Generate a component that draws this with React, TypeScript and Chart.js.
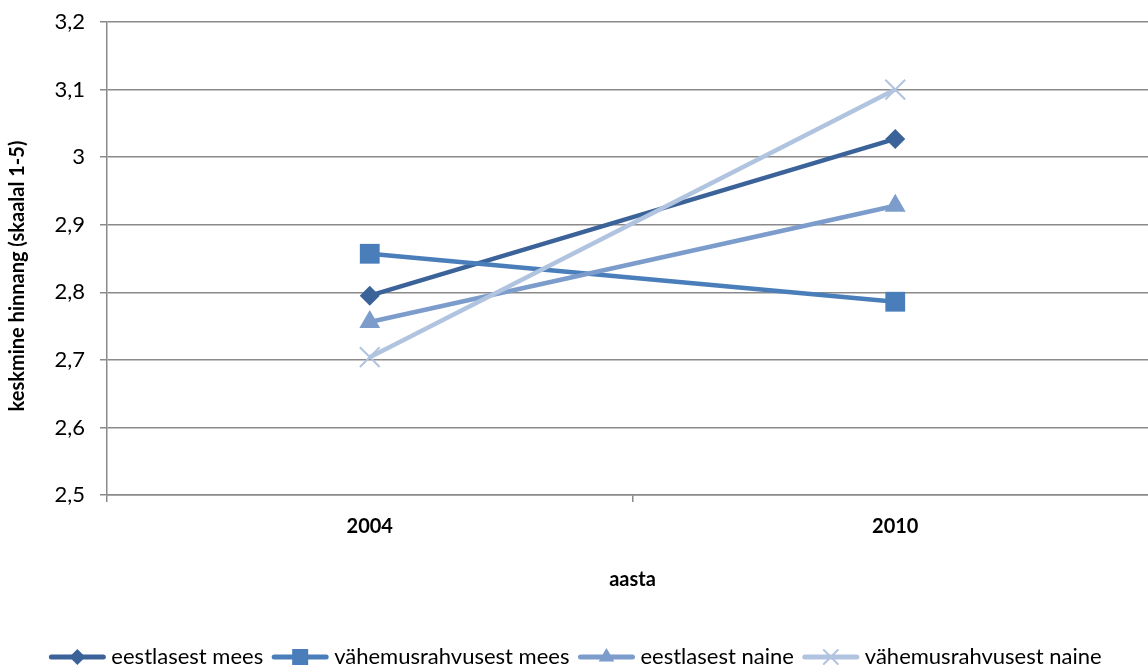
import React, { useEffect, useRef } from 'react';
import { Chart, registerables } from 'chart.js';

Chart.register(...registerables);

const FONT = 'Lato, "Open Sans", sans-serif';

const categories = ['2004', '2010'];
const seriesNames = [
  'eestlasest mees',
  'vähemusrahvusest mees',
  'eestlasest naine',
  'vähemusrahvusest naine',
];
const eestlasestMees = [2.795, 3.027];
const vahemusrahvusestMees = [2.857, 2.786];
const eestlasestNaine = [2.756, 2.928];
const vahemusrahvusestNaine = [2.704, 3.1];
const yMin = 2.5;
const yMax = 3.2;
const yStep = 0.1;
const xTitle = 'aasta';
const yTitle = 'keskmine hinnang (skaalal 1-5)';

const seriesValues = [eestlasestMees, vahemusrahvusestMees, eestlasestNaine, vahemusrahvusestNaine];
const colors = ['#3C6399', '#4A7EBB', '#7C9CCC', '#B0C4E0'];
const pointStyles = ['rectRot', 'rect', 'triangle', 'crossRot'];
const pointRadii = [10, 14, 12, 14];
const GRID = '#8A8A8A';

function drawMarker(ctx: CanvasRenderingContext2D, style: string, x: number, y: number, color: string) {
  ctx.save();
  ctx.fillStyle = color;
  ctx.strokeStyle = color;
  ctx.beginPath();
  if (style === 'rectRot') {
    const r = 8;
    ctx.moveTo(x, y - r);
    ctx.lineTo(x + r, y);
    ctx.lineTo(x, y + r);
    ctx.lineTo(x - r, y);
    ctx.closePath();
    ctx.fill();
  } else if (style === 'rect') {
    const s = 8;
    ctx.rect(x - s, y - s, 2 * s, 2 * s);
    ctx.fill();
  } else if (style === 'triangle') {
    const r = 9;
    ctx.moveTo(x, y - r);
    ctx.lineTo(x + r * 0.87, y + r * 0.5);
    ctx.lineTo(x - r * 0.87, y + r * 0.5);
    ctx.closePath();
    ctx.fill();
  } else {
    const r = 7;
    ctx.lineWidth = 2;
    ctx.moveTo(x - r, y - r);
    ctx.lineTo(x + r, y + r);
    ctx.moveTo(x + r, y - r);
    ctx.lineTo(x - r, y + r);
    ctx.stroke();
  }
  ctx.restore();
}

const legendPlugin = {
  id: 'customLegend',
  afterDraw(chart: any) {
    const ctx: CanvasRenderingContext2D = chart.ctx;
    ctx.save();
    ctx.font = `22px ${FONT}`;
    const lineW = 58;
    const gapText = 5;
    const gapItem = 8;
    const widths = seriesNames.map((n) => ctx.measureText(n).width);
    const total = widths.reduce((a, w) => a + lineW + gapText + w, 0) + gapItem * (seriesNames.length - 1);
    let x = 575 - total / 2;
    const y = 657;
    seriesNames.forEach((name, i) => {
      ctx.strokeStyle = colors[i];
      ctx.lineWidth = 5;
      ctx.lineCap = 'round';
      ctx.beginPath();
      ctx.moveTo(x + 3, y);
      ctx.lineTo(x + lineW - 3, y);
      ctx.stroke();
      drawMarker(ctx, pointStyles[i], x + lineW / 2, y, colors[i]);
      ctx.fillStyle = '#000';
      ctx.textBaseline = 'middle';
      ctx.textAlign = 'left';
      ctx.fillText(name, x + lineW + gapText, y);
      x += lineW + gapText + widths[i] + gapItem;
    });
    // y axis title
    ctx.font = `bold 20px ${FONT}`;
    ctx.translate(18, 276);
    ctx.rotate(-Math.PI / 2);
    ctx.textAlign = 'center';
    ctx.textBaseline = 'middle';
    ctx.fillStyle = '#000';
    ctx.fillText(yTitle, 0, 0);
    ctx.restore();
  },
};

export default function App() {
  const ref = useRef<HTMLCanvasElement>(null);
  useEffect(() => {
    if (!ref.current) return;
    Chart.defaults.color = '#000';
    Chart.defaults.font.family = FONT;
    const chart = new Chart(ref.current, {
      type: 'line',
      data: {
        labels: categories,
        datasets: seriesNames.map((name, i) => ({
          label: name,
          data: seriesValues[i],
          borderColor: colors[i],
          backgroundColor: colors[i],
          borderWidth: 4.5,
          pointStyle: pointStyles[i] as any,
          pointRadius: pointRadii[i],
          pointBorderWidth: pointStyles[i] === 'crossRot' ? 2 : 0,
          pointBorderColor: colors[i],
          pointBackgroundColor: colors[i],
          order: seriesNames.length - i,
        })),
      },
      options: {
        responsive: false,
        animation: false,
        layout: { padding: { top: 22, right: 1, bottom: 72, left: 0 } },
        plugins: {
          legend: { display: false },
          tooltip: { enabled: false },
        },
        scales: {
          x: {
            type: 'category',
            offset: true,
            grid: {
              offset: true,
              drawOnChartArea: false,
              drawTicks: true,
              tickLength: 7,
              color: GRID,
              lineWidth: 1.5,
            },
            border: { display: true, color: GRID, width: 1.5 },
            ticks: { padding: 13, font: { size: 20, weight: 'bold', family: FONT }, color: '#000' },
            title: {
              display: true,
              text: xTitle,
              font: { size: 20, weight: 'bold', family: FONT },
              color: '#000',
              padding: { top: 0, bottom: 2 },
            },
            afterFit(scale: any) {
              scale.height = 99;
            },
          },
          y: {
            min: yMin,
            max: yMax,
            grid: { color: GRID, lineWidth: 1.5, drawTicks: true, tickLength: 7 },
            border: { display: true, color: GRID, width: 1.5 },
            ticks: {
              stepSize: yStep,
              padding: 15,
              font: { size: 22, family: FONT },
              color: '#000',
              callback: (v: any) => String(Number(Number(v).toFixed(1))).replace('.', ','),
            },
            title: { display: false },
            afterFit(scale: any) {
              scale.width = 107;
              scale.paddingTop = 0;
              scale.paddingBottom = 0;
            },
          },
        },
      },
      plugins: [legendPlugin],
    });
    return () => chart.destroy();
  }, []);
  return (
    <div style={{ position: 'fixed', left: 0, top: 0, width: 1148, height: 666, overflow: 'hidden', background: '#fff' }}>
      <canvas ref={ref} width={1174} height={666} style={{ width: 1174, height: 666, display: 'block' }} />
    </div>
  );
}
